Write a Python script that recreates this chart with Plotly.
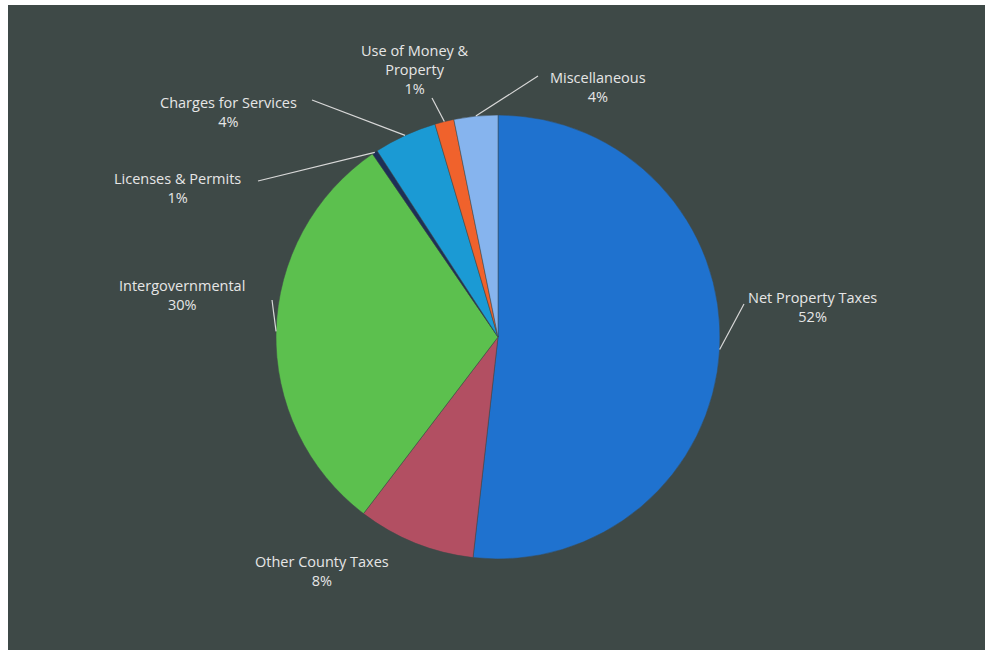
import math
import plotly.graph_objects as go

categories = ["Net Property Taxes", "Other County Taxes", "Intergovernmental",
              "Licenses & Permits", "Charges for Services", "Use of Money &<br>Property",
              "Miscellaneous"]
values = [52.0, 8.6, 30.2, 0.4, 4.6, 1.4, 3.2]
pct_labels = ["52%", "8%", "30%", "1%", "4%", "1%", "4%"]
colors = ["#1f72cf", "#b24f62", "#5cc04e", "#1d2f57", "#1b9ad4", "#f0622c", "#86b4ee"]

W, H = 992, 656
cx, cy, R = 498, 337, 222

fig = go.Figure(go.Pie(
    labels=categories, values=values, sort=False, direction="clockwise", rotation=0,
    marker=dict(colors=colors, line=dict(color="#3f4948", width=0.5)),
    textinfo="none", hoverinfo="label+percent", showlegend=False,
    domain=dict(x=[(cx - R) / W, (cx + R) / W], y=[(H - cy - R) / H, (H - cy + R) / H]),
))

# label text centres (layout positions, pixels from top-left)
label_pos = [(812, 307), (322, 571), (182, 295), (177, 188), (228, 112), (415, 70), (598, 87)]
# leader-line start points near the labels
line_start = [(744, 304), None, (272, 300), (258, 181), (312, 100), (432, 98), (538, 76)]

total = sum(values)
acc = 0
annotations = []
shapes = [dict(type="rect", xref="paper", yref="paper", x0=8 / W, x1=985 / W,
               y0=1 - 650 / H, y1=1 - 5 / H, fillcolor="#3e4947", line=dict(width=0),
               layer="below")]
for i, v in enumerate(values):
    mid = (acc + v / 2) / total * 2 * math.pi
    acc += v
    ex = cx + R * math.sin(mid)
    ey = cy - R * math.cos(mid)
    lx, ly = label_pos[i]
    annotations.append(dict(
        x=lx / W, y=1 - ly / H, xref="paper", yref="paper", showarrow=False,
        xanchor="center", yanchor="middle",
        text=f"{categories[i]}<br>{pct_labels[i]}", align="center",
        font=dict(family="Open Sans, Liberation Sans, sans-serif", size=14.5, color="#e6e6e6"),
    ))
    if line_start[i] is not None:
        sx, sy = line_start[i]
        shapes.append(dict(type="line", xref="paper", yref="paper",
                           x0=sx / W, y0=1 - sy / H, x1=ex / W, y1=1 - ey / H,
                           line=dict(color="#d8d8d8", width=1.2)))

fig.update_layout(
    width=W, height=H, margin=dict(l=0, r=0, t=0, b=0),
    paper_bgcolor="#ffffff", plot_bgcolor="#ffffff",
    annotations=annotations, shapes=shapes,
)
fig.write_html("out.html")
